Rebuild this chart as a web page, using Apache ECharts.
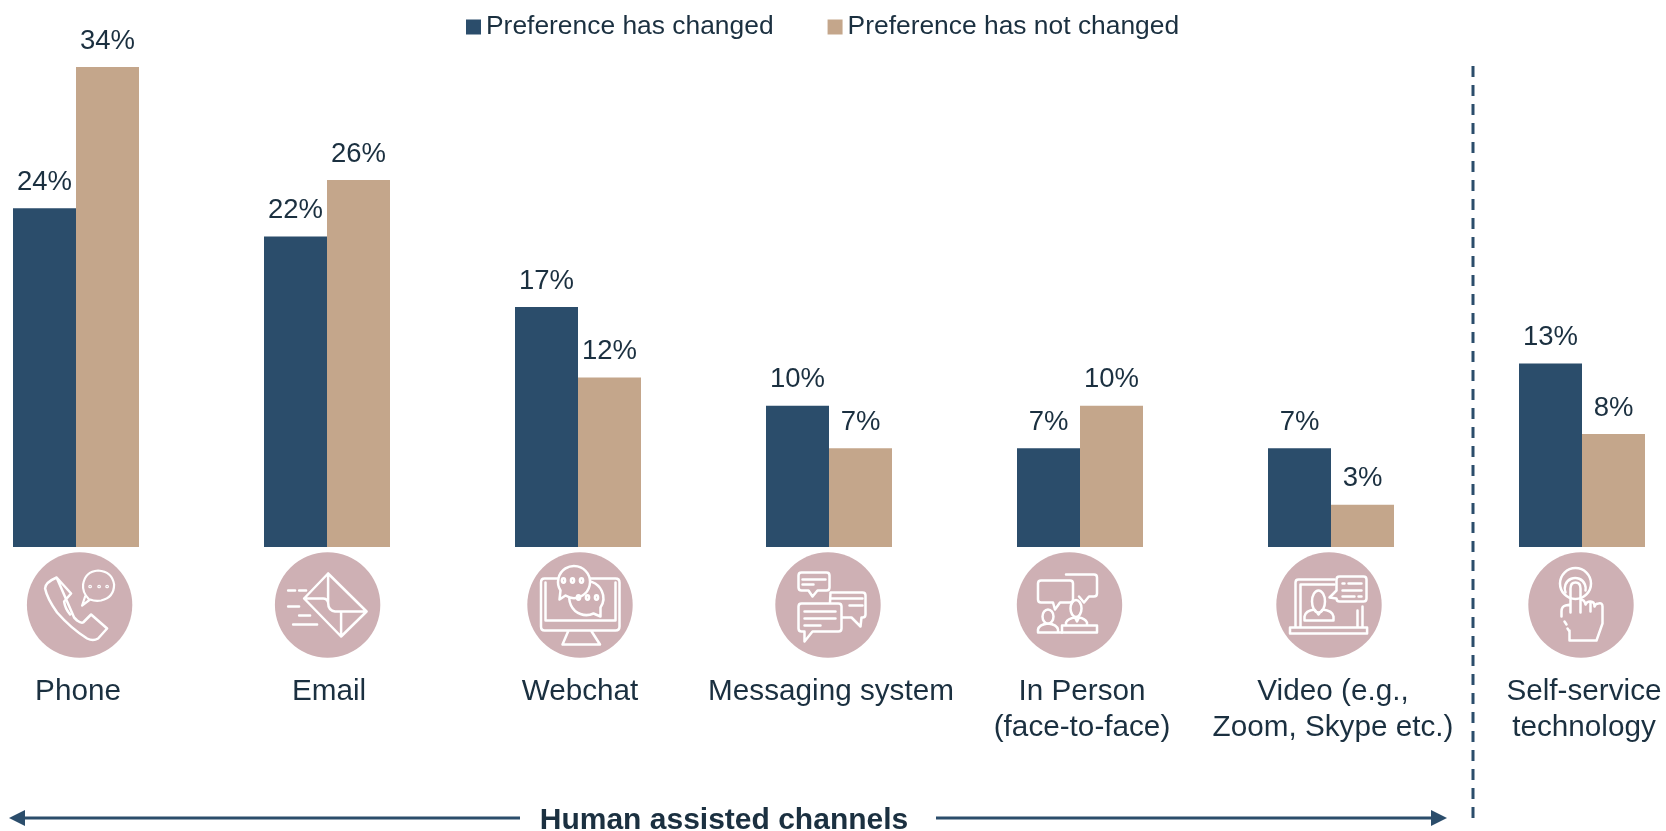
<!DOCTYPE html>
<html><head><meta charset="utf-8">
<style>html,body{margin:0;padding:0;background:#fff;overflow:hidden}#c{width:1666px;height:831px}</style>
<script src="https://cdn.jsdelivr.net/npm/echarts@6/dist/echarts.min.js"></script>
</head><body><div id="c"></div>
<script>
const categories = ['Phone','Email','Webchat','Messaging system','In Person\n(face-to-face)','Video (e.g.,\nZoom, Skype etc.)','Self-service\ntechnology'];
const changed = [24,22,17,10,7,7,13];
const notChanged = [34,26,12,7,10,3,8];
const seriesNames = ['Preference has changed','Preference has not changed'];
const groupLabel = 'Human assisted channels';

const NAVY='#2B4D6B', TAN='#C4A68B', PINK='#CEB0B4', INK='#1B3040', FONT='"Liberation Sans",Arial,sans-serif';
const iconDx = [3.6,0.6,2,-1,-10.5,-2,-1];

const e=(x,y,rx,ry)=>`M${x-rx} ${y}A${rx} ${ry} 0 1 1 ${x+rx} ${y}A${rx} ${ry} 0 1 1 ${x-rx} ${y}Z`;
const icons = [
 [ // phone
  {d:'M29.5 25L44 41L37 49Q38 56 43 62M47 65L50 68Q54 71 56 70L64 62L80 76L71 86Q66 89 60 86Q44 76 30 60Q20 46 18 36Q18 30 29.5 25Z'},
  {d:'M62 47Q55 40 56 32Q58 19 71 18Q85 19 87 32Q87 45 74 48Q68 49 63 47L55 53L58 44',w:2.2},
  {d:e(63,34,.6,.6)+e(72,34,.6,.6)+e(80,34,.6,.6)}
 ],
 [ // email
  {d:'M53 21L91.5 59L66 84L29 46ZM53 21L53 50Q53 58 60 59L91.5 59M29 46L48 46Q52 46 53 50M66 59L66 84'},
  {d:'M13 38L20 38M24 38L31 38M13 54L24 54M24 63L35 63M18 72L42 72'}
 ],
 [ // webchat
  {d:'M17 26L88 26Q92 26 92 30L92 74Q92 78 88 78L17 78Q13.5 78 13.5 74L13.5 30Q13.5 26 17 26ZM18 68L88 68M18 68L18 30M88 68L88 30M41 78L35 92L72.5 92L63.5 78'},
  {d:'M66 61A17 17 0 1 1 73 55L73 64Z',f:1},
  {d:'M33 38A16 16 0 1 1 38 43L32 47Z',f:1},
  {d:e(36,28,1.6,2.2)+e(45,28,1.6,2.2)+e(54,28,1.6,2.2)+e(51,45,1.6,2.2)+e(60,45,1.6,2.2)+e(69,45,1.6,2.2)}
 ],
 [ // messaging
  {d:'M26 20L51 20Q54 20 54 23L54 35Q54 38 51 38L42 38L37 44L33 38L26 38Q23 38 23 35L23 23Q23 20 26 20ZM27 27L50 27M27 32L38 32'},
  {d:'M55 40L87 40Q90 40 90 43L90 62Q90 65 87 65L86 65L85 74L76 65L60 65Q54 65 54 60ZM56 46L87 46M74 53L87 53',f:1},
  {d:'M26 51L63 51Q66 51 66 54L66 76Q66 79 63 79L37 79L29 89L29 79L26 79Q23 79 23 76L23 54Q23 51 26 51ZM29 59L60 59M29 66L60 66M29 73L45 73',f:1}
 ],
 [ // in person
  {d:'M49 22L77 22Q80 22 80 25L80 41Q80 44 77 44L72 44L67 50L62 44'},
  {d:'M24 28L53 28Q56 28 56 31L56 47Q56 50 53 50L43 50L38 57L36 50L24 50Q21 50 21 47L21 31Q21 28 24 28Z',f:1},
  {d:e(31,64,5.5,7)+'M21 80L21 77Q22 72 31 71Q40 72 41 77L41 80ZM21 80L45 80'},
  {d:e(59,56,5.5,8.5)+'M49 73L49 70Q51 66 58 65L60 69L62 65Q68 66 70 70L70 73M45 73L80 73L80 80L45 80Z'}
 ],
 [ // video
  {d:'M58 27L22 27Q19 27 19 30L19 75M24 75L24 32L58 32M86 54L86 75M81 58L81 75M13.5 75L90.6 75L90.6 81L13.5 81Z'},
  {d:'M63 24L87 24Q90 24 90 27L90 46Q90 49 87 49L63 49Q60 49 60 46L53 45L60 38L60 27Q60 24 63 24ZM66 31L68 31M72 31L85 31M66 38L85 38M66 44L78 44M82 44L85 44'},
  {d:e(42,49,6.5,11)+'M28 68L28 64Q29 58 38 57L42 62L46 57Q56 58 57 64L57 68M28 68L57 68'}
 ],
 [ // self-service
  {d:e(47,31,15.5,15.5)},
  {d:'M37 40A10.5 10.5 0 1 1 57 38'},
  {d:'M41 78L41 88L68 88L74 71L74 54Q74 50 70 51Q67 51 66 54Q66 49 62 49Q58 49 57 52Q56 47 52 47L52 36Q52 30 47 30Q42 30 42 36L42 60M42 52L37 53Q33 54 33 59L33 64M36 69L38 72M39 76L41 79M52 47L52 60M62 49L62 59'}
 ]
];

const iconItem = (params, api) => {
  const i = api.value(0);
  const p = api.coord([i, 0]);
  const cx = p[0] + iconDx[i], cy = p[1] + 58;
  const children = [{type:'circle', shape:{cx, cy, r:52.7}, style:{fill:PINK}}];
  icons[i].forEach(it => children.push({
    type:'path',
    shape:{pathData:'M0 0M105 105'+it.d, layout:'cover', x:cx-52.5, y:cy-52.5, width:105, height:105},
    style:{fill:it.f?PINK:'none', stroke:'#fff', lineWidth:it.w||2.5, lineJoin:'round', lineCap:'round'}
  }));
  return {type:'group', children};
};

const labelStyle = {show:true, position:'top', distance:12, fontFamily:FONT, fontSize:27.5, color:INK, formatter:p=>p.value+'%'};
const chart = echarts.init(document.getElementById('c'), null, {renderer:'canvas'});
chart.setOption({
  animation:false,
  backgroundColor:'#fff',
  legend:{
    data:seriesNames, left:466, top:14, itemWidth:15, itemHeight:15, itemGap:54, padding:0, icon:'rect',
    textStyle:{fontFamily:FONT, fontSize:26.4, color:INK, padding:[0,0,0,0]}
  },
  grid:{left:-49.5, width:1757, top:67, height:480, containLabel:false, outerBoundsMode:'none'},
  xAxis:{type:'category', data:categories, axisLine:{show:false}, axisTick:{show:false},
    axisLabel:{interval:0, margin:127, padding:[0,0,0,4], fontFamily:FONT, fontSize:29.7, lineHeight:36, color:INK, hideOverlap:false}},
  yAxis:{type:'value', min:0, max:34, interval:34, show:false, splitLine:{show:false}},
  series:[
    {name:seriesNames[0], type:'bar', data:changed, barWidth:63, barGap:0, itemStyle:{color:NAVY}, label:labelStyle},
    {name:seriesNames[1], type:'bar', data:notChanged, barWidth:63, barGap:0, itemStyle:{color:TAN}, label:labelStyle},
    {type:'custom', data:categories.map((c,i)=>[i]), renderItem:iconItem, clip:false, silent:true, encode:{x:0}}
  ],
  graphic:[
    {type:'line', shape:{x1:1473,y1:66,x2:1473,y2:823}, style:{stroke:NAVY, lineWidth:3, lineDash:[11,8]}},
    {type:'line', shape:{x1:20,y1:818,x2:520,y2:818}, style:{stroke:NAVY, lineWidth:3}},
    {type:'polygon', shape:{points:[[9,818],[25,810],[25,826]]}, style:{fill:NAVY}},
    {type:'line', shape:{x1:936,y1:818,x2:1435,y2:818}, style:{stroke:NAVY, lineWidth:3}},
    {type:'polygon', shape:{points:[[1447,818],[1431,810],[1431,826]]}, style:{fill:NAVY}},
    {type:'text', x:724, y:821, style:{text:groupLabel, fontFamily:FONT, fontSize:30, fontWeight:'bold', fill:INK, textAlign:'center', textVerticalAlign:'middle'}}
  ]
});
</script></body></html>
